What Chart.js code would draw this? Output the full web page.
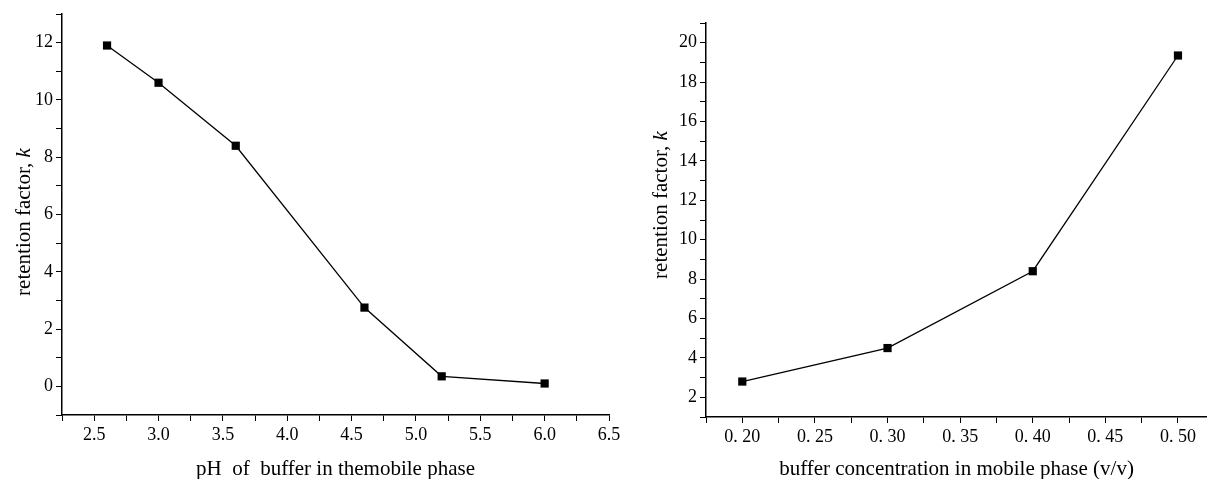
<!DOCTYPE html>
<html>
<head>
<meta charset="utf-8">
<script src="https://cdn.jsdelivr.net/npm/chart.js@4.4.1/dist/chart.umd.min.js"></script>
<style>
  body { margin: 0; background: #fff; width: 1207px; height: 479px; overflow: hidden; position: relative; }
  #boxPH { position: absolute; left: 0; top: 0; width: 625px; height: 479px; }
  #boxConc { position: absolute; left: 625px; top: 0; width: 582px; height: 479px; }
</style>
</head>
<body>
<div id="boxPH"><canvas id="chartPH"></canvas></div>
<div id="boxConc"><canvas id="chartConc"></canvas></div>
<script>
// left panel: retention factor vs pH
const phValues = [2.6, 3.0, 3.6, 4.6, 5.2, 6.0];
const kByPh = [11.9, 10.6, 8.4, 2.75, 0.35, 0.1];
const phMajorTicks = [2.5, 3.0, 3.5, 4.0, 4.5, 5.0, 5.5, 6.0, 6.5];
const phMinorTicks = [2.25, 2.75, 3.25, 3.75, 4.25, 4.75, 5.25, 5.75, 6.25];
const kPhMajorTicks = [0, 2, 4, 6, 8, 10, 12];
const kPhMinorTicks = [-1, 1, 3, 5, 7, 9, 11, 13];

// right panel: retention factor vs buffer concentration
const concValues = [0.20, 0.30, 0.40, 0.50];
const kByConc = [2.8, 4.5, 8.4, 19.35];
const concMajorTicks = [0.20, 0.25, 0.30, 0.35, 0.40, 0.45, 0.50];
const concMinorTicks = [0.175, 0.225, 0.275, 0.325, 0.375, 0.425, 0.475];
const kConcMajorTicks = [2, 4, 6, 8, 10, 12, 14, 16, 18, 20];
const kConcMinorTicks = [1, 3, 5, 7, 9, 11, 13, 15, 17, 19, 21];

const xTitlePH = 'pH  of  buffer in themobile phase';
const xTitleConc = 'buffer concentration in mobile phase (v/v)';
const yTitleText = 'retention factor, ';
const yTitleVar = 'k';

const serif = '"Liberation Serif", "Times New Roman", serif';
const tickFont = { family: serif, size: 18 };
const titleFont = { family: serif, size: 21, lineHeight: 0.9 };

function isMajor(list, v) {
  return list.some(m => Math.abs(m - v) < 1e-6);
}

// y title with italic k, drawn by hand since chart.js titles have one font
const yTitlePlugin = {
  id: 'yTitle',
  afterDraw(chart, args, opts) {
    const ctx = chart.ctx;
    ctx.save();
    ctx.translate(opts.x, opts.y);
    ctx.rotate(-Math.PI / 2);
    ctx.fillStyle = '#000';
    ctx.textBaseline = 'middle';
    ctx.textAlign = 'left';
    ctx.font = '21px ' + serif;
    const w1 = ctx.measureText(yTitleText).width;
    ctx.font = 'italic 21px ' + serif;
    const w2 = ctx.measureText(yTitleVar).width;
    const start = -(w1 + w2) / 2;
    ctx.font = '21px ' + serif;
    ctx.fillText(yTitleText, start, 0);
    ctx.font = 'italic 21px ' + serif;
    ctx.fillText(yTitleVar, start + w1, 0);
    ctx.restore();
  }
};

function makeAxis(opts) {
  return {
    type: 'linear',
    min: opts.min,
    max: opts.max,
    afterBuildTicks: s => {
      s.ticks = opts.major.concat(opts.minor).sort((a, b) => a - b).map(v => ({ value: v }));
    },
    afterFit: opts.fit,
    ticks: {
      autoSkip: false,
      maxRotation: 0,
      color: '#000',
      font: tickFont,
      padding: opts.pad,
      callback: v => isMajor(opts.major, v) ? opts.fmt(v) : ''
    },
    grid: {
      drawOnChartArea: false,
      drawTicks: true,
      tickLength: 6,
      tickColor: '#000',
      tickWidth: 1
    },
    border: { display: true, color: '#000', width: 1.5 },
    title: opts.title ? {
      display: true,
      text: opts.title,
      color: '#000',
      font: titleFont,
      padding: { top: 0, bottom: 0 }
    } : { display: false }
  };
}

function makeChart(el, xs, ys, xAxis, yAxis, padding, yTitlePos) {
  return new Chart(el, {
    type: 'line',
    data: {
      datasets: [{
        data: xs.map((x, i) => ({ x: x, y: ys[i] })),
        borderColor: '#000',
        borderWidth: 1.3,
        backgroundColor: '#000',
        pointStyle: 'rect',
        pointRadius: 5.8,
        pointBorderWidth: 0,
        pointBackgroundColor: '#000',
        tension: 0,
        clip: false
      }]
    },
    options: {
      responsive: true,
      maintainAspectRatio: false,
      animation: false,
      layout: { padding: padding, autoPadding: false },
      plugins: {
        legend: { display: false },
        tooltip: { enabled: false },
        yTitle: yTitlePos
      },
      scales: { x: xAxis, y: yAxis }
    },
    plugins: [yTitlePlugin]
  });
}

makeChart(
  document.getElementById('chartPH'),
  phValues, kByPh,
  makeAxis({ min: 2.25, max: 6.5, major: phMajorTicks, minor: phMinorTicks, pad: 3,
    fmt: v => v.toFixed(1), title: xTitlePH,
    fit: s => { s.height = 64; s.paddingLeft = 0; s.paddingRight = 0; } }),
  makeAxis({ min: -1, max: 13, major: kPhMajorTicks, minor: kPhMinorTicks, pad: 3,
    fmt: v => String(v), fit: s => { s.width = 62; } }),
  { top: 14, right: 16, left: 0, bottom: 0 },
  { x: 24, y: 222 }
);

makeChart(
  document.getElementById('chartConc'),
  concValues, kByConc,
  makeAxis({ min: 0.175, max: 0.52, major: concMajorTicks, minor: concMinorTicks, pad: 3,
    fmt: v => v.toFixed(2).replace('.', '. '), title: xTitleConc,
    fit: s => { s.height = 62; s.paddingLeft = 0; s.paddingRight = 0; } }),
  makeAxis({ min: 1, max: 21, major: kConcMajorTicks, minor: kConcMinorTicks, pad: 3,
    fmt: v => String(v), fit: s => { s.width = 81; } }),
  { top: 23, right: 0, left: 0, bottom: 0 },
  { x: 36, y: 205 }
);
</script>
</body>
</html>
